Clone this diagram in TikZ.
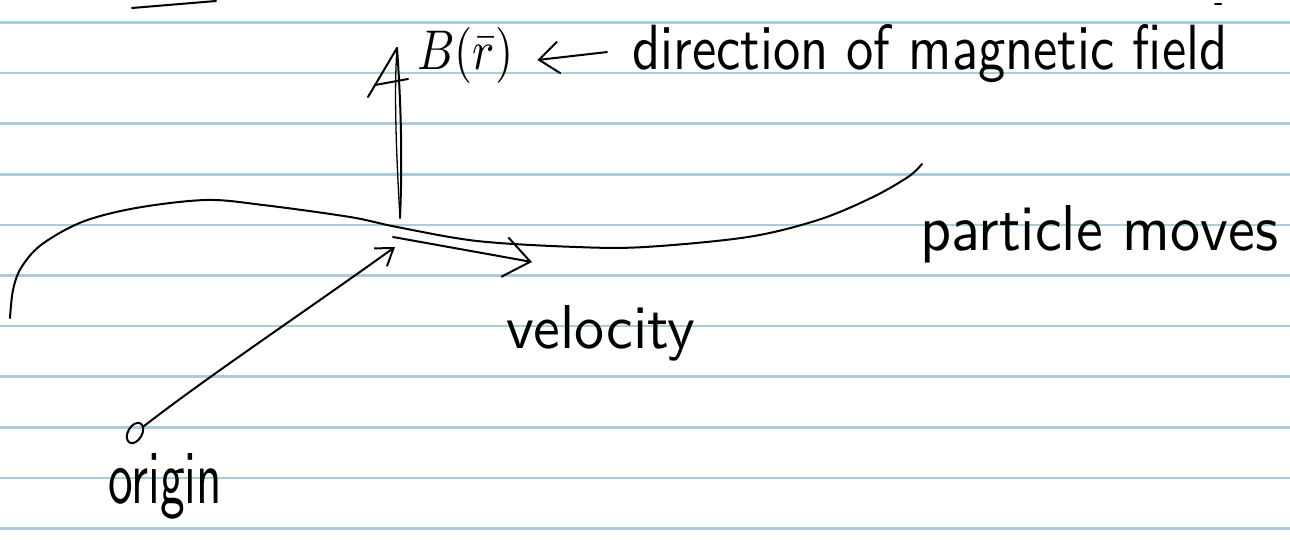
\documentclass[tikz,border=0pt]{standalone}
\usetikzlibrary{arrows.meta,shapes.geometric}
\definecolor{ruleblue}{RGB}{170,205,218}
\begin{document}
\begin{tikzpicture}[x=1pt,y=-1pt,
  ink/.style={line width=2pt, line cap=round, line join=round, black},
  ruleline/.style={ruleblue, line width=2.6pt},
  hand/.style={inner sep=0pt, anchor=base west, font=\sffamily},
  bigbarb/.style={-{Straight Barb[length=26pt,width=40pt,line width=2pt]}},
  midbarb/.style={-{Straight Barb[length=20pt,width=32pt,line width=2pt]}},
  smallbarb/.style={-{Straight Barb[length=16pt,width=22pt,line width=2pt]}}
]
\fill[white] (0,0) rectangle (1290,540);
\useasboundingbox (0,0) rectangle (1290,540);
\foreach \k in {0,...,10} \draw[ruleline] (0,22.5+50.6*\k) -- (1290,22.5+50.6*\k);

% stray strokes at the top
\draw[ink] (132,8) -- (216,1);
\draw[ink] (1215,4) -- (1221,4);

% trajectory of the particle
\draw[ink] plot[smooth, tension=0.55] coordinates {(10,318) (13,290) (21,268) (41,245) (82,222) (136,208) (206,200) (263,205) (350,217) (397,227) (477,241) (576,247) (645,247) (748,237) (818,220) (871,198) (908,177) (922,164)};

% magnetic field arrow
\coordinate (P) at (400,218);
\coordinate (Btip) at (397,48);
\draw[ink] (P) .. controls (403,150) and (400,90) .. (Btip);
\draw[ink, line width=1.3pt] (P) .. controls (396,150) and (394,90) .. (Btip);
\draw[ink] (Btip) -- ++(-29,49);
\draw[ink] ([shift={(-22,37)}]Btip) -- ([shift={(11,31)}]Btip);

% origin and position vector
\node[ellipse, draw, ink, minimum width=14pt, minimum height=22pt, inner sep=0pt, rotate=-30] (o) at (135,433) {};
\coordinate (R) at (395,247);
\draw[ink, smallbarb] (o) .. controls (210,375) and (300,315) .. (R);

% velocity vector
\coordinate (v1) at (393,237);
\coordinate (v2) at (532,262);
\draw[ink, bigbarb] (v1) -- (v2);

% labels
\node[hand] (B) at (417,70) {\resizebox{96pt}{42pt}{$B(\bar r)$}};
\node[hand] (dir) at (632,70) {\resizebox{595pt}{45pt}{direction of magnetic field}};
\draw[ink, midbarb] ([xshift=-25pt,yshift=2pt]dir.west) -- ([xshift=24pt,yshift=-4pt]B.east);
\node[hand] (pm) at (920,250) {\resizebox{358pt}{45pt}{particle moves}};
\node[hand] (vel) at (506,348) {\resizebox{189pt}{43pt}{velocity}};
\node[hand] (orig) at (108,503) {\resizebox{114pt}{50pt}{origin}};
\end{tikzpicture}
\end{document}
